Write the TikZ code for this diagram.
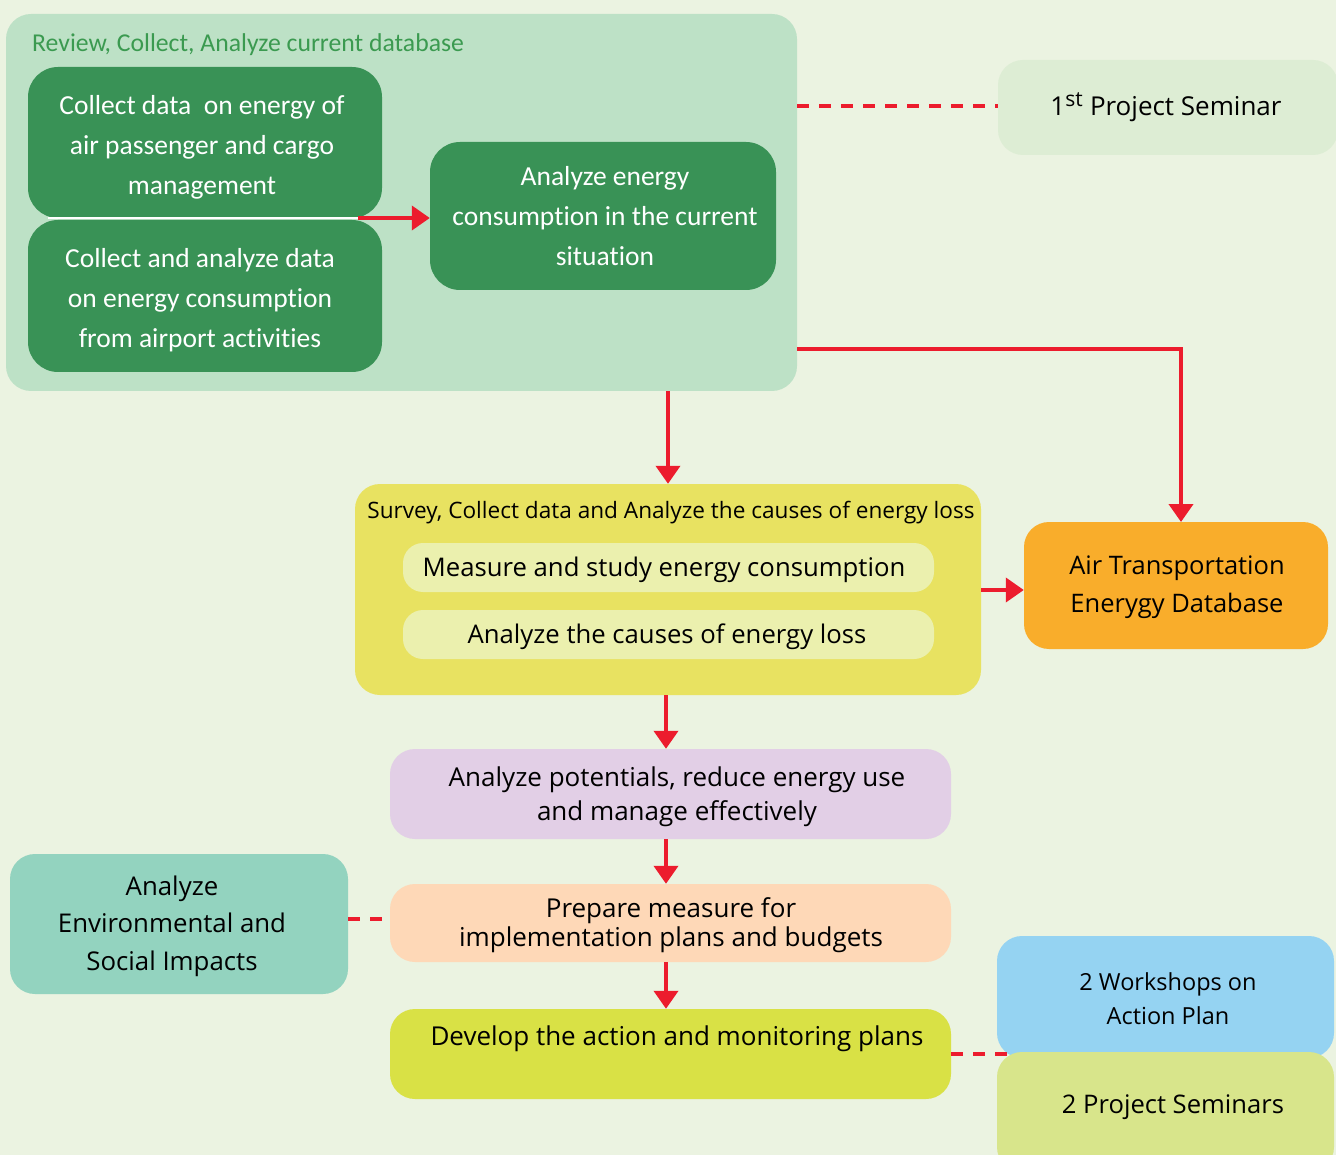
\documentclass[tikz,border=0pt]{standalone}
\usepackage{fontspec}
\setmainfont{Open Sans}[Ligatures=NoCommon,RawFeature={-liga;-clig;-dlig}]
\newfontfamily\condfont{Carlito}[Ligatures=NoCommon,RawFeature={-liga;-clig;-dlig}]
\usetikzlibrary{arrows.meta}
\definecolor{bgc}{HTML}{EBF3E1}
\definecolor{outerc}{HTML}{BDE1C6}
\definecolor{dgreen}{HTML}{399256}
\definecolor{tgreen}{HTML}{3B9A50}
\definecolor{semc}{HTML}{DDEDD4}
\definecolor{yelc}{HTML}{E8E261}
\definecolor{lyelc}{HTML}{EBF0AE}
\definecolor{orc}{HTML}{F9AD2B}
\definecolor{purc}{HTML}{E2CFE6}
\definecolor{peachc}{HTML}{FED8B7}
\definecolor{tealc}{HTML}{93D3BF}
\definecolor{devc}{HTML}{D9E145}
\definecolor{bluec}{HTML}{95D3F2}
\definecolor{gyc}{HTML}{D8E58B}
\definecolor{redc}{HTML}{EC1C2D}
\tikzset{
  box/.style={draw=none, rounded corners=25pt, inner sep=0pt, align=center},
  gbox/.style={box, fill=dgreen, rounded corners=30pt},
  gtext/.style={text=white, align=center, font=\condfont\fontsize{27.5}{40}\selectfont},
  lowtext/.style={yshift=-3pt},
  arr/.style={draw=redc, line width=4pt, -{Triangle[length=18pt,width=24pt]}},
  dashline/.style={draw=redc, line width=4.5pt, dash pattern=on 12pt off 10pt},
}
\begin{document}
\begin{tikzpicture}[x=1pt,y=-1pt]
\clip (0,0) rectangle (1336,1155);
\fill[bgc] (0,0) rectangle (1336,1155);
% top container
\node[box, fill=outerc, minimum width=791pt, minimum height=377pt] (outer) at (401.5,202.5) {};
\node[anchor=west, text=tgreen, inner sep=0pt, font=\condfont\fontsize{25.7}{28}\selectfont] (outt) at (32,45) {Review, Collect, Analyze current database};
\node[gbox, minimum width=354pt, minimum height=151pt] (a) at (205,142.5) {};
\node[gbox, minimum width=354pt, minimum height=152pt] (b) at (205,296) {};
\node[gtext] (at) at (202,147) {Collect data~ on energy of\\air passenger and cargo\\management};
\node[gtext] (bt) at (200,300) {Collect and analyze data\\on energy consumption\\from airport activities};
\coordinate (sepl) at (48,218);
\coordinate (sepr) at (358,218);
\draw[white, line width=2pt] (sepl) -- (sepr);
\node[gbox, minimum width=346pt, minimum height=148pt] (c) at (603,216) {};
\node[gtext] (ct) at (605,216) {Analyze energy\\consumption in the current\\situation};
\draw[arr] (sepr) -- (c.west |- sepr);
% seminar 1
\node[box, fill=semc, minimum width=340pt, minimum height=95pt] (sem) at (1168,107.5) {};
\node[font=\fontsize{26}{30}\selectfont] (semt) at (1166,107) {1\textsuperscript{\fontsize{21}{21}\selectfont st} Project Seminar};
\coordinate (o1) at (797,106);
\draw[dashline] (o1) -- (sem.west |- o1);
% yellow container
\node[box, fill=yelc, minimum width=626pt, minimum height=211pt] (yel) at (668,589.5) {};
\node[font=\fontsize{22.6}{26}\selectfont] (yelt) at (671,513) {Survey, Collect data and Analyze the causes of energy loss};
\node[box, fill=lyelc, rounded corners=20pt, minimum width=531pt, minimum height=49pt] (m1) at (668.5,567.5) {};
\node[box, fill=lyelc, rounded corners=20pt, minimum width=531pt, minimum height=49pt] (m2) at (668.5,634.5) {};
\node[font=\fontsize{25.7}{30}\selectfont] (m1t) at (664,570) {Measure and study energy consumption};
\node[font=\fontsize{25.7}{30}\selectfont] (m2t) at (667,637) {Analyze the causes of energy loss};
% orange
\node[box, fill=orc, minimum width=304pt, minimum height=127pt] (db) at (1176,585.5) {};
\node[align=center, font=\fontsize{25.5}{38}\selectfont] (dbt) at (1177,587) {Air Transportation\\Enerygy Database};
% connectors from top container
\coordinate (o2) at (797,349);
\coordinate (dbin) at (1181,522);
\draw[arr] (o2) -| (dbin);
\draw[arr] (outer.south -| 668,0) -- (yel.north -| 668,0);
\draw[arr] (yel.east |- 0,590) -- (db.west |- 0,590);
% purple
\node[box, fill=purc, minimum width=561pt, minimum height=90pt] (pur) at (670.5,794) {};
\node[align=center, font=\fontsize{26}{34}\selectfont] (purt) at (677,797) {Analyze potentials, reduce energy use\\and manage effectively};
\draw[arr] (yel.south -| 666,0) -- (pur.north -| 666,0);
% peach
\node[box, fill=peachc, minimum width=561pt, minimum height=78pt] (pea) at (670.5,923) {};
\node[align=center, font=\fontsize{26}{29}\selectfont] (peat) at (671,925) {Prepare measure for\\implementation plans and budgets};
\draw[arr] (pur.south -| 666,0) -- (pea.north -| 666,0);
% teal
\node[box, fill=tealc, minimum width=338pt, minimum height=140pt] (env) at (179,924) {};
\node[align=center, font=\fontsize{25.8}{37.5}\selectfont] (envt) at (172,926) {Analyze\\Environmental and\\Social Impacts};
\draw[dashline] (env.east |- 0,919) -- (pea.west |- 0,919);
% develop
\node[box, fill=devc, minimum width=561pt, minimum height=90pt] (dev) at (670.5,1054) {};
\node[font=\fontsize{26}{30}\selectfont] (devt) at (677,1039) {Develop the action and monitoring plans};
\draw[arr] (pea.south -| 666,0) -- (dev.north -| 666,0);
% workshops and seminars
\node[box, fill=bluec, minimum width=337pt, minimum height=122pt] (ws) at (1165.5,997) {};
\node[align=center, font=\fontsize{23.5}{34}\selectfont] (wst) at (1168,999) {2 Workshops on\\Action Plan};
\node[box, fill=gyc, minimum width=337pt, minimum height=120pt] (ps) at (1165.5,1112) {};
\node[font=\fontsize{25.6}{30}\selectfont] (pst) at (1173,1107) {2 Project Seminars};
\coordinate (wsl) at (1010,1054);
\draw[dashline] (dev.east |- wsl) -- (wsl);
\end{tikzpicture}
\end{document}
